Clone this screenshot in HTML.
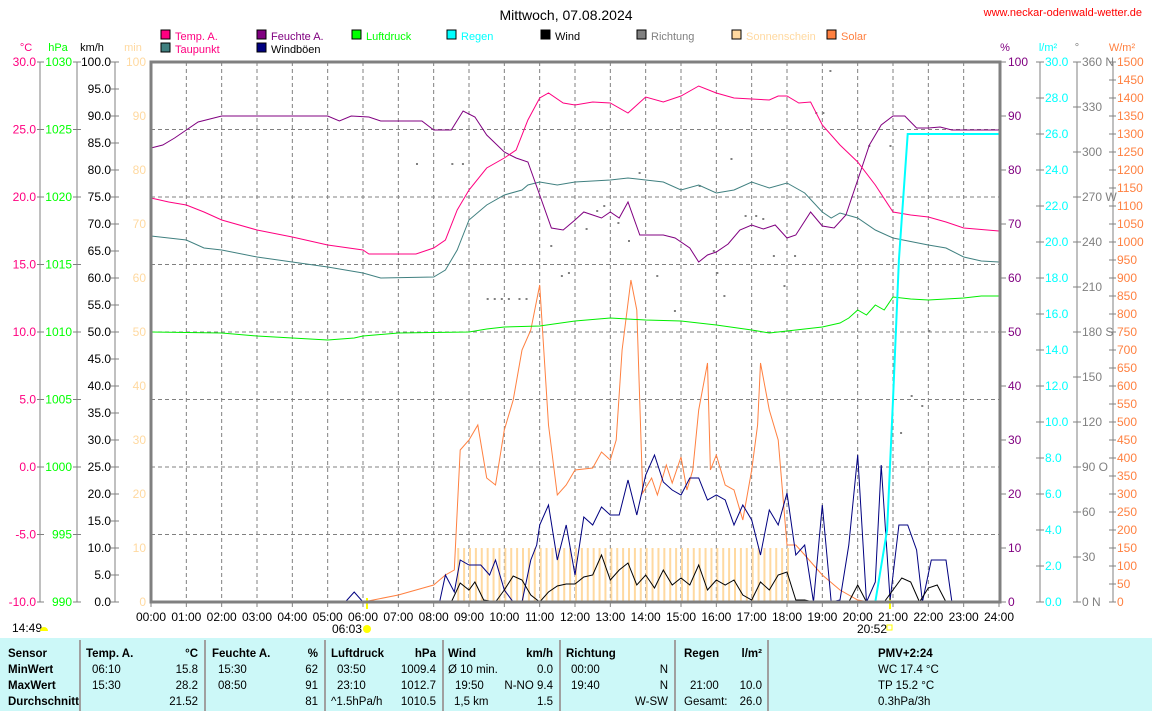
<!DOCTYPE html>
<html><head><meta charset="utf-8"><style>
html,body{margin:0;padding:0;background:#fff;width:1152px;height:711px;overflow:hidden}
svg{display:block;font-family:"Liberation Sans",sans-serif}
</style></head><body>
<svg id="s" width="1152" height="711" xmlns="http://www.w3.org/2000/svg">
<rect width="1152" height="711" fill="#fff"/>
<text x="566" y="20" text-anchor="middle" font-size="14" fill="#000">Mittwoch, 07.08.2024</text>
<text x="1142" y="16" text-anchor="end" font-size="11" fill="#f00">www.neckar-odenwald-wetter.de</text>
<g id="leg" font-size="11"></g>
<g id="axes" font-size="12"></g>
<g id="plot"></g>
<g id="table"></g>
</svg>
<script>
var s=document.getElementById('s'),NS='http://www.w3.org/2000/svg';
function el(p,t,a,txt){var e=document.createElementNS(NS,t);for(var k in a)e.setAttribute(k,a[k]);if(txt!=null)e.textContent=txt;(typeof p=='string'?document.getElementById(p):p).appendChild(e);return e;}
var X0=151,X1=999,Y0=62,Y1=602;
function X(h){return X0+(X1-X0)*h/24;}
var L=[["Temp. A.","#ff0080",161,38,"#ff0080"],["Feuchte A.","#800080",257,38,"#800080"],["Luftdruck","#00ff00",352,38,"#00ff00"],["Regen","#00ffff",447,38,"#00ffff"],["Wind","#000",541,38,"#000"],["Richtung","#808080",637,38,"#808080"],["Sonnenschein","#ffd9a0",732,38,"#ffd9a0"],["Solar","#ff8040",827,38,"#ff8040"],["Taupunkt","#408080",161,51,"#ff0080"],["Windböen","#000080",257,51,"#000"]];
L.forEach(function(l){el('leg','rect',{x:l[2],y:l[3]-8,width:9,height:9,fill:l[1],stroke:"#000","stroke-width":1});el('leg','text',{x:l[2]+14,y:l[3]+2,fill:l[4]},l[0]);});
var A=el('axes','g',{});
[["°C",26,"#ff0080"],["hPa",58,"#00ff00"],["km/h",92,"#000"],["min",133,"#ffd9a0"],["%",1005,"#800080"],["l/m²",1048,"#00ffff"],["°",1077,"#808080"],["W/m²",1122,"#ff8040"]].forEach(function(h){el(A,'text',{x:h[1],y:51,"text-anchor":"middle",fill:h[2],"font-size":11},h[0]);});
function axisLine(x){el(A,'line',{x1:x,y1:Y0,x2:x,y2:Y1,stroke:"#808080"});}
axisLine(40);axisLine(77);axisLine(115);axisLine(1040);axisLine(1077);axisLine(1113);
for(var i=0;i<=8;i++){var y=Y0+i*67.5;
 el(A,'text',{x:36,y:y+4,"text-anchor":"end",fill:"#ff0080"},(30-5*i).toFixed(1));
 el(A,'line',{x1:37,y1:y,x2:44,y2:y,stroke:"#808080"});
 el(A,'text',{x:72,y:y+4,"text-anchor":"end",fill:"#00ff00"},1030-5*i);
 el(A,'line',{x1:73,y1:y,x2:81,y2:y,stroke:"#808080"});}
for(i=0;i<=20;i++){var y=Y0+i*27;el(A,'text',{x:111,y:y+4,"text-anchor":"end",fill:"#000"},(100-5*i).toFixed(1));el(A,'line',{x1:111,y1:y,x2:119,y2:y,stroke:"#808080"});}
for(i=0;i<=10;i++){var y=Y0+i*54;el(A,'text',{x:146,y:y+4,"text-anchor":"end",fill:"#ffd9a0"},100-10*i);
 el(A,'line',{x1:1001,y1:y,x2:1006,y2:y,stroke:"#808080"});el(A,'text',{x:1008,y:y+4,fill:"#800080"},100-10*i);}
for(i=0;i<=15;i++){var y=Y0+i*36;el(A,'line',{x1:1036,y1:y,x2:1044,y2:y,stroke:"#808080"});el(A,'text',{x:1045,y:y+4,fill:"#00ffff"},(30-2*i).toFixed(1));}
var dl={0:" N",3:" W",6:" S",9:" O",12:" N"};
for(i=0;i<=12;i++){var y=Y0+i*45;el(A,'line',{x1:1073,y1:y,x2:1081,y2:y,stroke:"#808080"});el(A,'text',{x:1082,y:y+4,fill:"#808080"},(360-30*i)+(dl[i]||""));}
for(i=0;i<=30;i++){var y=Y0+i*18;el(A,'line',{x1:1109,y1:y,x2:1116,y2:y,stroke:"#808080"});el(A,'text',{x:1117,y:y+4,fill:"#ff8040"},1500-50*i);}
for(i=0;i<=24;i++){el(A,'line',{x1:X(i),y1:Y1,x2:X(i),y2:Y1+5,stroke:"#808080"});el(A,'text',{x:X(i),y:621,"text-anchor":"middle",fill:"#000"},(i<10?"0":"")+i+":00");}
el(A,'text',{x:332,y:633,fill:"#000"},"06:03");el(A,'circle',{cx:367,cy:629,r:4,fill:"#ffff00"});
el(A,'text',{x:857,y:633,fill:"#000"},"20:52");el(A,'rect',{x:887,y:625,width:5,height:5,fill:"none",stroke:"#ffff00"});
el(A,'text',{x:12,y:632,fill:"#000"},"14:49");el(A,'path',{d:"M40 631 a4 4 0 0 1 8 0 z",fill:"#ffff00"});
el(A,'line',{x1:367,y1:598,x2:367,y2:609,stroke:"#ffff00","stroke-width":2});
el(A,'line',{x1:890,y1:598,x2:890,y2:609,stroke:"#ffff00","stroke-width":2});
var P=document.getElementById('plot');
for(i=1;i<24;i++)el(P,'line',{x1:X(i),y1:Y0,x2:X(i),y2:Y1,stroke:"#808080","stroke-dasharray":"4,3"});
for(i=1;i<8;i++)el(P,'line',{x1:X0,y1:Y0+i*67.5,x2:X1,y2:Y0+i*67.5,stroke:"#808080","stroke-dasharray":"4,3"});
for(var h=8+40/60;h<18.01;h+=1/6)el(P,'rect',{x:X(h),y:548,width:2,height:54,fill:"#ffd9a0"});
function line(pts,c,w){var d=pts.map(function(p){var hh=typeof p[0]=='string'?(+p[0].split(':')[0]+p[0].split(':')[1]/60):p[0];return X(hh).toFixed(1)+","+p[1];}).join(" ");el(P,'polyline',{points:d,fill:"none",stroke:c,"stroke-width":w||1});}
function T(a){var r=[];for(var k=0;k<a.length;k+=2)r.push([a[k],a[k+1]]);return r;}
[[7.5,163],[8.5,163],[8.8,163],[9.5,298],[9.7,298],[9.9,298],[10.1,298],[10.4,298],[10.6,298],[11.3,245],[11.6,275],[11.8,272],[12.3,228],[12.6,210],[12.8,205],[13.2,222],[13.5,240],[13.8,172],[14.3,275],[14.8,310],[15.5,185],[15.9,250],[16.0,272],[16.2,295],[16.4,158],[16.8,215],[17.1,215],[17.3,218],[17.6,255],[17.9,285],[18.2,255],[18.8,112],[19.0,112],[19.2,70],[20.3,145],[20.9,145],[21.2,432],[21.5,395],[21.8,405],[22.0,330]].forEach(function(p){el(P,'rect',{x:X(p[0]),y:p[1],width:2,height:2,fill:"#808080"});});
line(T(["6:00",602,"7:00",595,"8:00",585,"8:20",575,"8:35",570,"8:45",450,"9:00",440,"9:15",425,"9:30",478,"9:45",485,"10:00",430,"10:15",400,"10:30",350,"10:45",330,"11:00",285,"11:15",425,"11:30",495,"11:45",485,"12:00",470,"12:30",468,"12:45",452,"13:00",460,"13:10",440,"13:20",350,"13:35",280,"13:45",310,"13:55",493,"14:10",478,"14:20",495,"14:35",465,"14:45",483,"15:00",457,"15:10",490,"15:20",470,"15:30",410,"15:45",363,"15:50",470,"16:00",455,"16:15",485,"16:30",490,"16:45",520,"17:00",470,"17:10",425,"17:15",363,"17:30",410,"17:45",440,"18:00",545,"18:15",545,"18:30",555,"18:45",565,"19:00",575,"19:30",590,"20:00",600,"20:20",602]),"#ff8040");
line(T(["5:30",602,"5:45",592,"6:00",602,"8:10",602,"8:20",575,"8:35",592,"8:45",560,"9:00",565,"9:20",565,"9:35",575,"9:45",560,"10:00",590,"10:15",602,"10:30",602,"10:45",560,"10:55",545,"11:00",525,"11:15",505,"11:30",560,"11:45",525,"12:00",575,"12:15",517,"12:30",525,"12:45",507,"13:00",515,"13:15",515,"13:30",480,"13:45",515,"14:00",475,"14:15",455,"14:30",482,"14:45",490,"15:00",495,"15:15",478,"15:30",478,"15:45",500,"16:00",495,"16:15",500,"16:30",525,"16:45",505,"17:00",520,"17:15",555,"17:30",510,"17:45",525,"18:00",493,"18:15",555,"18:30",545,"18:45",602,"19:00",505,"19:15",602,"19:30",600,"19:45",545,"20:00",455,"20:15",602,"20:30",582,"20:40",465,"20:55",600,"21:10",525,"21:25",525,"21:40",550,"21:50",602,"22:05",560,"22:30",560,"22:40",602]),"#000080");
line(T(["8:30",602,"8:45",583,"9:00",590,"9:10",582,"9:25",600,"9:45",602,"10:00",590,"10:15",576,"10:30",580,"10:45",595,"11:00",602,"11:15",592,"11:30",586,"11:45",584,"12:00",584,"12:15",577,"12:30",575,"12:45",555,"13:00",580,"13:15",570,"13:30",563,"13:45",585,"14:00",575,"14:15",588,"14:30",570,"14:45",585,"15:00",578,"15:15",585,"15:30",565,"15:45",590,"16:00",580,"16:15",585,"16:30",580,"16:45",595,"17:00",600,"17:15",582,"17:30",590,"17:45",575,"18:00",572,"18:15",600,"18:30",600,"18:45",602,"19:45",602,"20:00",585,"20:15",602,"20:45",602,"21:00",590,"21:15",578,"21:30",582,"21:45",602,"22:00",588,"22:15",585,"22:30",602]),"#000");
line(T(["0:00",332,"2:00",333,"3:00",336,"4:00",338,"5:00",340,"5:45",338,"6:00",336,"7:00",333,"9:00",332,"9:30",329,"10:00",327,"11:00",326,"12:00",321,"13:00",318,"14:00",320,"15:00",321,"16:00",325,"17:00",330,"17:30",333,"18:00",331,"19:00",327,"19:30",323,"19:45",318,"20:00",310,"20:15",315,"20:30",305,"20:45",310,"21:00",297,"21:30",299,"22:00",300,"23:00",298,"23:30",296,"24:00",296]),"#00ee00");
line(T(["0:00",236,"0:30",238,"1:00",240,"1:30",248,"2:00",250,"3:00",257,"4:00",262,"5:00",267,"6:00",273,"6:30",278,"8:00",277,"8:20",270,"8:40",250,"9:00",220,"9:30",205,"10:00",195,"10:30",190,"10:40",185,"11:00",182,"11:30",185,"12:00",182,"13:00",180,"13:30",178,"14:00",180,"14:30",182,"15:00",190,"15:30",185,"16:00",193,"16:30",190,"17:00",182,"17:30",188,"18:00",183,"18:30",193,"19:00",212,"19:15",218,"19:30",213,"20:00",218,"20:30",230,"21:00",238,"22:00",245,"22:30",248,"23:00",257,"23:30",261,"24:00",262]),"#408080");
line(T(["0:00",148,"0:20",145,"0:40",138,"1:00",130,"1:20",122,"2:00",116,"5:00",116,"5:20",121,"5:40",116,"6:10",117,"6:30",121,"7:40",121,"8:00",130,"8:30",130,"8:50",111,"9:10",117,"9:30",135,"10:00",152,"10:20",158,"10:40",162,"11:00",195,"11:20",228,"11:40",230,"12:00",220,"12:15",212,"12:30",215,"12:45",218,"13:00",212,"13:15",218,"13:30",202,"13:50",235,"14:30",235,"14:50",238,"15:15",248,"15:30",262,"15:45",255,"16:00",252,"16:20",244,"16:40",230,"17:00",225,"17:20",229,"17:40",225,"18:00",238,"18:15",235,"18:40",212,"19:00",226,"19:20",228,"19:40",215,"20:00",180,"20:20",145,"20:40",125,"21:00",116,"21:20",116,"21:40",128,"22:00",128,"22:20",127,"22:40",130,"23:00",130,"24:00",130]),"#800080");
line(T(["0:00",198,"0:30",202,"1:00",205,"1:30",212,"2:00",220,"3:00",230,"4:00",237,"5:00",245,"6:00",250,"6:10",254,"7:30",254,"8:00",248,"8:20",240,"8:40",210,"9:00",190,"9:30",168,"10:00",158,"10:20",150,"10:40",120,"11:00",98,"11:15",93,"11:40",103,"12:00",105,"12:30",102,"13:00",103,"13:30",113,"14:00",97,"14:30",102,"15:00",96,"15:30",86,"16:00",93,"16:30",98,"17:00",99,"17:30",100,"17:45",96,"18:00",96,"18:20",103,"18:40",102,"19:00",125,"19:30",145,"20:00",162,"20:30",185,"21:00",212,"21:30",215,"22:00",217,"22:30",222,"23:00",228,"24:00",231]),"#ff0080");
line(T(["0:00",602,"20:30",602,"20:50",530,"21:00",400,"21:10",260,"21:25",134,"24:00",134]),"#00ffff",2);
el(P,'rect',{x:X0,y:Y0,width:X1-X0+1,height:Y1-Y0,fill:"none",stroke:"#808080","stroke-width":3});
var G=document.getElementById('table');
el(G,'rect',{x:0,y:638,width:1152,height:73,fill:"#ccf8f8"});
[80,205,325,443,560,675,768].forEach(function(x){el(G,'line',{x1:x,y1:640,x2:x,y2:711,stroke:"#a0a0a0","stroke-width":2});});
function t(x,y,s,b,anc){el(G,'text',{x:x,y:y,"font-size":11.5,"font-weight":b?"bold":"normal","text-anchor":anc||"start",fill:"#000"},s);}
var ys=[657,673,689,705];
["Sensor","MinWert","MaxWert","Durchschnitt"].forEach(function(s,i){t(8,ys[i],s,1);});
t(86,657,"Temp. A.",1);t(198,657,"°C",1,"end");t(92,673,"06:10");t(198,673,"15.8",0,"end");t(92,689,"15:30");t(198,689,"28.2",0,"end");t(198,705,"21.52",0,"end");
t(212,657,"Feuchte A.",1);t(318,657,"%",1,"end");t(218,673,"15:30");t(318,673,"62",0,"end");t(218,689,"08:50");t(318,689,"91",0,"end");t(318,705,"81",0,"end");
t(331,657,"Luftdruck",1);t(436,657,"hPa",1,"end");t(337,673,"03:50");t(436,673,"1009.4",0,"end");t(337,689,"23:10");t(436,689,"1012.7",0,"end");t(331,705,"^1.5hPa/h");t(436,705,"1010.5",0,"end");
t(448,657,"Wind",1);t(553,657,"km/h",1,"end");t(448,673,"Ø 10 min.");t(553,673,"0.0",0,"end");t(455,689,"19:50");t(553,689,"N-NO 9.4",0,"end");t(454,705,"1,5 km");t(553,705,"1.5",0,"end");
t(566,657,"Richtung",1);t(571,673,"00:00");t(668,673,"N",0,"end");t(571,689,"19:40");t(668,689,"N",0,"end");t(668,705,"W-SW",0,"end");
t(684,657,"Regen",1);t(762,657,"l/m²",1,"end");t(690,689,"21:00");t(762,689,"10.0",0,"end");t(684,705,"Gesamt:");t(762,705,"26.0",0,"end");
t(878,657,"PMV+2:24",1);t(878,673,"WC 17.4 °C");t(878,689,"TP 15.2 °C");t(878,705,"0.3hPa/3h");
</script>
</body></html>
